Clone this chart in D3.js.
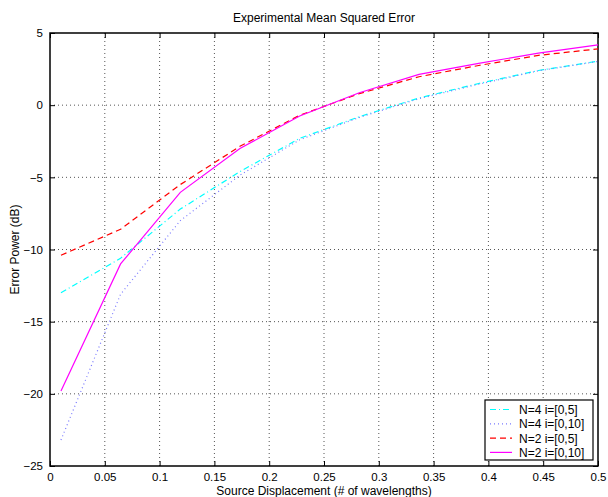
<!DOCTYPE html>
<html>
<head>
<meta charset="utf-8">
<script src="https://cdn.jsdelivr.net/npm/d3@7"></script>
<style>
  body { margin: 0; background: #fff; }
  text { font-family: "Liberation Sans", Arial, sans-serif; }
</style>
</head>
<body>
<div id="chart"></div>
<script>
// sample positions: linspace(0.01, 0.5, 10)
const xs = [0.01, 0.0644, 0.1189, 0.1733, 0.2278, 0.2822, 0.3367, 0.3911, 0.4456, 0.5];

const n4i5  = [-13.0, -10.6, -7.2, -4.6, -2.3, -0.8, 0.5, 1.5, 2.4, 3.05];
const n4i10 = [-23.2, -13.1, -8.0, -4.85, -2.4, -0.85, 0.45, 1.45, 2.38, 3.03];
const n2i5  = [-10.4, -8.6, -5.5, -2.85, -0.7, 0.8, 1.97, 2.75, 3.45, 3.9];
const n2i10 = [-19.8, -11.0, -6.04, -3.0, -0.75, 0.86, 2.13, 2.9, 3.6, 4.18];

const seriesNames = ["N=4 i=[0,5]", "N=4 i=[0,10]", "N=2 i=[0,5]", "N=2 i=[0,10]"];

const xTicks = [0, 0.05, 0.1, 0.15, 0.2, 0.25, 0.3, 0.35, 0.4, 0.45, 0.5];
const yTicks = [-25, -20, -15, -10, -5, 0, 5];

const W = 608, H = 497;
const margin = { left: 50, right: 10, top: 33, bottom: 31 };

const svg = d3.select("#chart").append("svg")
    .attr("width", W)
    .attr("height", H);

const x = d3.scaleLinear().domain([0, 0.5]).range([margin.left, W - margin.right]);
const y = d3.scaleLinear().domain([-25, 5]).range([H - margin.bottom, margin.top]);

// grid (dotted)
const grid = svg.append("g");
grid.selectAll("line.gx")
    .data(xTicks.slice(1, -1))
    .enter().append("line")
    .attr("x1", d => x(d)).attr("x2", d => x(d))
    .attr("y1", y(-25)).attr("y2", y(5))
    .attr("stroke", "#555").attr("stroke-width", 1)
    .attr("stroke-dasharray", "1,3");
grid.selectAll("line.gy")
    .data(yTicks.slice(1, -1))
    .enter().append("line")
    .attr("y1", d => y(d)).attr("y2", d => y(d))
    .attr("x1", x(0)).attr("x2", x(0.5))
    .attr("stroke", "#555").attr("stroke-width", 1)
    .attr("stroke-dasharray", "1,3");

// axes with inward ticks, MATLAB style
const fmtY = d => d < 0 ? "\u2212" + Math.abs(d) : String(d);
const fmtX = d => String(d);

const axB = svg.append("g").attr("transform", `translate(0,${y(-25)})`)
    .call(d3.axisBottom(x).tickValues(xTicks).tickSize(-5).tickPadding(7).tickFormat(fmtX));
const axT = svg.append("g").attr("transform", `translate(0,${y(5)})`)
    .call(d3.axisTop(x).tickValues(xTicks).tickSize(-5).tickFormat(""));
const axL = svg.append("g").attr("transform", `translate(${x(0)},0)`)
    .call(d3.axisLeft(y).tickValues(yTicks).tickSize(-5).tickPadding(7).tickFormat(fmtY));
const axR = svg.append("g").attr("transform", `translate(${x(0.5)},0)`)
    .call(d3.axisRight(y).tickValues(yTicks).tickSize(-5).tickFormat(""));

[axB, axT, axL, axR].forEach(a => {
    a.select(".domain").remove();
    a.selectAll("line").attr("stroke", "#000");
    a.selectAll("text").attr("fill", "#000").style("font-size", "11.5px");
});

// box
svg.append("rect")
    .attr("x", x(0)).attr("y", y(5))
    .attr("width", x(0.5) - x(0)).attr("height", y(-25) - y(5))
    .attr("fill", "none").attr("stroke", "#000").attr("stroke-width", 1.5);

// lines
const styles = [
    { data: n4i5,  color: "#00ffff", dash: "6,3,1,3" },
    { data: n4i10, color: "#7a7aff", dash: "1,3" },
    { data: n2i5,  color: "#ff0000", dash: "6,4" },
    { data: n2i10, color: "#ff00ff", dash: null }
];

const line = d3.line().x((d, i) => x(xs[i])).y(d => y(d));

styles.forEach(s => {
    svg.append("path")
        .datum(s.data)
        .attr("d", line)
        .attr("fill", "none")
        .attr("stroke", s.color)
        .attr("stroke-width", 1.2)
        .attr("stroke-dasharray", s.dash);
});

// legend
const lg = svg.append("g");
lg.append("rect")
    .attr("x", 485).attr("y", 400)
    .attr("width", 108).attr("height", 60)
    .attr("fill", "#fff").attr("stroke", "#000").attr("stroke-width", 1.2);

styles.forEach((s, i) => {
    const ly = 409.5 + i * 14.3;
    lg.append("line")
        .attr("x1", 490).attr("x2", 512)
        .attr("y1", ly).attr("y2", ly)
        .attr("stroke", s.color).attr("stroke-width", 1.2)
        .attr("stroke-dasharray", s.dash);
    lg.append("text")
        .attr("x", 519).attr("y", ly + 4.5)
        .style("font-size", "12px")
        .text(seriesNames[i]);
});

// titles
svg.append("text")
    .attr("x", (x(0) + x(0.5)) / 2).attr("y", 22)
    .attr("text-anchor", "middle").style("font-size", "12px")
    .text("Experimental Mean Squared Error");

svg.append("text")
    .attr("x", (x(0) + x(0.5)) / 2).attr("y", 495)
    .attr("text-anchor", "middle").style("font-size", "12px")
    .text("Source Displacement (# of wavelengths)");

svg.append("text")
    .attr("transform", `translate(19,${(y(-25) + y(5)) / 2}) rotate(-90)`)
    .attr("text-anchor", "middle").style("font-size", "12px")
    .text("Error Power (dB)");
</script>
</body>
</html>
